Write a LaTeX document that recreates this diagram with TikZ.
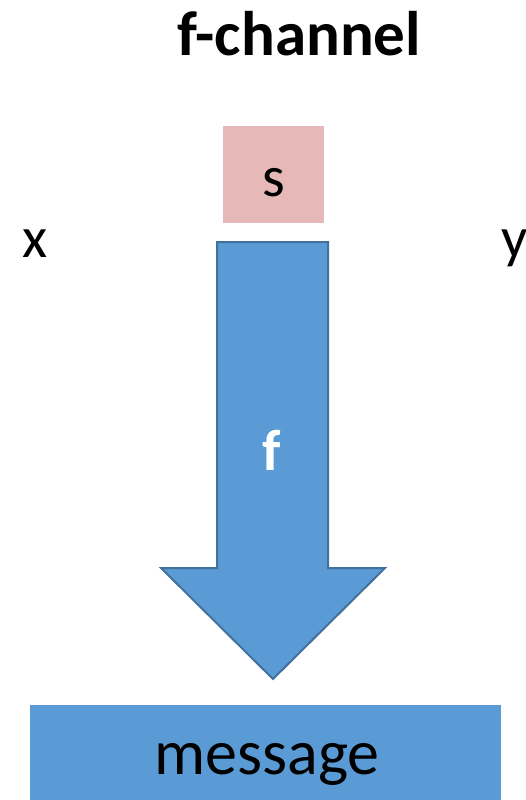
\documentclass[tikz,border=0pt]{standalone}
\usepackage{fontspec}
\setmainfont{Carlito}
\definecolor{pinkbox}{HTML}{E6B9B8}
\definecolor{bluefill}{HTML}{5B9BD5}
\definecolor{blueline}{HTML}{41719C}
\begin{document}
\begin{tikzpicture}[x=1pt,y=-1pt,
  lbl/.style={inner sep=0pt,font=\fontsize{58}{62}\selectfont},
  title/.style={inner sep=0pt,font=\fontsize{63}{68}\selectfont\bfseries}]
\useasboundingbox (0,0) rectangle (526,800);
\clip (0,0) rectangle (526,800);
\node[title,anchor=base] (t) at (299,56) {f-channel};
\fill[pinkbox] (223,126) rectangle (324,223);
\node[lbl,anchor=base] (s) at (274,196) {s};
\node[lbl,anchor=base] (x) at (35,257) {x};
\node[lbl,anchor=base west] (y) at (501,257) {y};
\draw[blueline,fill=bluefill,line width=2pt,line join=miter]
  (217,242) -- (328,242) -- (328,568) -- (385,568) -- (273,679) -- (161,568) -- (217,568) -- cycle;
\node[lbl,anchor=base,text=white,font=\fontsize{58}{62}\selectfont\bfseries] (f) at (272,470) {f};
\fill[bluefill] (30,705) rectangle (501,810);
\node[lbl,anchor=base,font=\fontsize{64}{68}\selectfont] (m) at (267,774) {message};
\end{tikzpicture}
\end{document}
